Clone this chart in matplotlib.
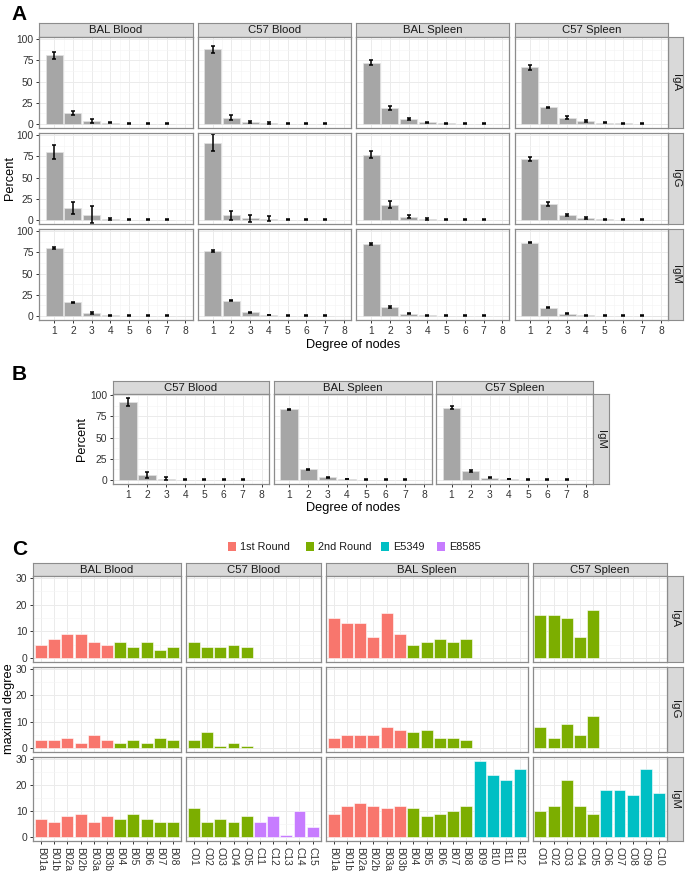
import numpy as np
import matplotlib
matplotlib.use('Agg')
import matplotlib.pyplot as plt
from matplotlib.patches import Rectangle

plt.rcParams['font.family'] = ['Liberation Sans', 'DejaVu Sans']

nan = np.nan

# ---- panel A / B data: percent of nodes per degree (mean, error) ----
degree = [1, 2, 3, 4, 5, 6, 7, 8]
tissues_a = ['BAL Blood', 'C57 Blood', 'BAL Spleen', 'C57 Spleen']
isotypes = ['IgA', 'IgG', 'IgM']

iga_mean = [[81, 13, 3.5, 1.5, 0.5, 0.3, 0.3, nan],
            [88, 7.5, 2.5, 1.0, 0.4, 0.3, 0.2, nan],
            [72, 19, 6, 2.0, 1.0, 0.5, 0.3, 0.1],
            [67, 19.6, 7.5, 3.5, 1.5, 0.8, 0.4, 0.1]]
iga_err = [[4, 2, 2, 0.8, 0.5, 0.5, 0.5, nan],
           [4, 3, 1.5, 0.8, 0.5, 0.5, 0.5, nan],
           [3, 2, 1.5, 0.8, 0.5, 0.5, 0.5, nan],
           [3, 1, 1.5, 0.8, 0.5, 0.5, 0.5, nan]]
igg_mean = [[80, 14, 6, 1.0, 0.3, 0.2, 0.2, nan],
            [91, 5.5, 2, 1.5, 0.5, 0.5, 0.2, nan],
            [77, 18, 4, 1.2, 0.5, 0.3, 0.3, 0.05],
            [72, 19, 6, 2.5, 0.8, 0.5, 0.3, 0.05]]
igg_err = [[8, 7, 10, 0.8, 0.5, 0.5, 0.5, nan],
           [10, 5, 4, 3, 0.5, 0.8, 0.5, nan],
           [4, 4, 2, 0.8, 0.5, 0.5, 0.5, nan],
           [2, 2.5, 1.5, 0.8, 0.5, 0.5, 0.5, nan]]
igm_mean = [[80, 16, 3.5, 0.8, 0.2, 0.1, 0.1, 0.05],
            [76.5, 18, 4.5, 1.2, 0.3, 0.1, 0.1, nan],
            [85, 11, 2.5, 0.8, 0.3, 0.2, 0.1, 0.05],
            [86.5, 10, 2.5, 0.7, 0.3, 0.1, 0.1, 0.05]]
igm_err = [[1, 1, 0.8, 0.5, 0.5, 0.5, 0.5, nan],
           [0.6, 0.8, 0.6, 0.5, 0.5, 0.5, 0.5, nan],
           [1.5, 1, 0.6, 0.5, 0.5, 0.5, 0.5, nan],
           [0.6, 0.8, 0.5, 0.5, 0.5, 0.5, 0.5, nan]]

tissues_b = ['C57 Blood', 'BAL Spleen', 'C57 Spleen']
b_igm_mean = [[92, 6, 1.5, 0.5, 0.2, 0.2, 0.2, nan],
              [83, 12.5, 3, 1.2, 0.3, 0.2, 0.2, 0.05],
              [85, 11, 2.5, 1.0, 0.4, 0.2, 0.2, 0.05]]
b_igm_err = [[5, 4, 1.5, 0.5, 0.5, 0.5, 0.5, nan],
             [0.5, 0.6, 0.5, 0.4, 0.4, 0.4, 0.4, nan],
             [1.5, 1, 0.6, 0.4, 0.4, 0.4, 0.4, nan]]

# ---- panel C data: maximal degree per sample ----
bal_blood_samples = ['B01a', 'B01b', 'B02a', 'B02b', 'B03a', 'B03b', 'B04', 'B05', 'B06', 'B07', 'B08']
bal_blood_groups = ['1st Round', '1st Round', '1st Round', '1st Round', '1st Round', '1st Round',
                    '2nd Round', '2nd Round', '2nd Round', '2nd Round', '2nd Round']
bal_blood_iga = [5, 7, 9, 9, 6, 5, 6, 4, 6, 3, 4]
bal_blood_igg = [3, 3, 4, 2, 5, 3, 2, 3, 2, 4, 3]
bal_blood_igm = [7, 6, 8, 9, 6, 8, 7, 9, 7, 6, 6]

c57_blood_samples = ['C01', 'C02', 'C03', 'C04', 'C05', 'C11', 'C12', 'C13', 'C14', 'C15']
c57_blood_groups = ['2nd Round', '2nd Round', '2nd Round', '2nd Round', '2nd Round',
                    'E8585', 'E8585', 'E8585', 'E8585', 'E8585']
c57_blood_iga = [6, 4, 4, 5, 4, nan, nan, nan, nan, nan]
c57_blood_igg = [3, 6, 1, 2, 1, nan, nan, nan, nan, nan]
c57_blood_igm = [11, 6, 7, 6, 8, 6, 8, 1, 10, 4]

bal_spleen_samples = ['B01a', 'B01b', 'B02a', 'B02b', 'B03a', 'B03b', 'B04', 'B05', 'B06', 'B07', 'B08',
                      'B09', 'B10', 'B11', 'B12']
bal_spleen_groups = ['1st Round', '1st Round', '1st Round', '1st Round', '1st Round', '1st Round',
                     '2nd Round', '2nd Round', '2nd Round', '2nd Round', '2nd Round',
                     'E5349', 'E5349', 'E5349', 'E5349']
bal_spleen_iga = [15, 13, 13, 8, 17, 9, 5, 6, 7, 6, 7, nan, nan, nan, nan]
bal_spleen_igg = [4, 5, 5, 5, 8, 7, 6, 7, 4, 4, 3, nan, nan, nan, nan]
bal_spleen_igm = [9, 12, 13, 12, 11, 12, 11, 8, 9, 10, 12, 29, 24, 22, 26]

c57_spleen_samples = ['C01', 'C02', 'C03', 'C04', 'C05', 'C06', 'C07', 'C08', 'C09', 'C10']
c57_spleen_groups = ['2nd Round', '2nd Round', '2nd Round', '2nd Round', '2nd Round',
                     'E5349', 'E5349', 'E5349', 'E5349', 'E5349']
c57_spleen_iga = [16, 16, 15, 8, 18, nan, nan, nan, nan, nan]
c57_spleen_igg = [8, 4, 9, 5, 12, nan, nan, nan, nan, nan]
c57_spleen_igm = [10, 12, 22, 12, 9, 18, 18, 16, 26, 17]

groups = ['1st Round', '2nd Round', 'E5349', 'E8585']
group_colors = {'1st Round': '#F8766D', '2nd Round': '#7CAE00', 'E5349': '#00BFC4', 'E8585': '#C77CFF'}

# ---------------- layout helpers (pixel coordinates, origin top-left) ----------------
W, H = 685, 872
fig = plt.figure(figsize=(W / 100, H / 100), dpi=100)

BORDER = '#8C8C8C'
TXT = '#333333'
TICK_SIZE = 7.4


def box(x0, y0, x1, y1):
    return [x0 / W, 1 - y1 / H, (x1 - x0) / W, (y1 - y0) / H]


def strip(x0, y0, x1, y1, label, rot=0):
    ax = fig.add_axes(box(x0, y0, x1, y1))
    ax.set_facecolor('#D9D9D9')
    ax.set_xticks([])
    ax.set_yticks([])
    for s in ax.spines.values():
        s.set_color(BORDER)
        s.set_linewidth(0.8)
    ax.text(0.5, 0.5, label, ha='center', va='center', rotation=rot,
            fontsize=8.2, color='#1A1A1A', transform=ax.transAxes)
    return ax


def panel(x0, y0, x1, y1):
    ax = fig.add_axes(box(x0, y0, x1, y1))
    ax.set_axisbelow(True)
    ax.grid(which='major', color='#EBEBEB', lw=0.7)
    ax.grid(which='minor', color='#F4F4F4', lw=0.4)
    for s in ax.spines.values():
        s.set_color(BORDER)
        s.set_linewidth(0.9)
    ax.tick_params(which='major', length=2.5, width=0.7, color=TXT, labelsize=TICK_SIZE,
                   labelcolor=TXT, pad=1.5)
    ax.tick_params(which='minor', length=0)
    return ax


def degree_panel(ax, mean, err, left, bottom):
    x = np.array(degree, dtype=float)
    m = np.array(mean, dtype=float)
    e = np.array(err, dtype=float)
    ok = ~np.isnan(m)
    ax.bar(x[ok], m[ok], width=0.9, color='#A6A6A6', edgecolor='#E3E3E3', linewidth=0.5)
    ok = ~np.isnan(e)
    ax.errorbar(x[ok], m[ok], yerr=e[ok], fmt='none', ecolor='black',
                elinewidth=1.1, capsize=1.5, capthick=1.1)
    ax.set_xticks(degree)
    ax.set_xticks(np.arange(1.5, 8.5, 1.0), minor=True)
    ax.set_yticks([0, 25, 50, 75, 100])
    ax.set_yticks([12.5, 37.5, 62.5, 87.5], minor=True)
    ax.set_xlim(0.19, 8.38)
    if not left:
        ax.tick_params(axis='y', which='both', left=False, labelleft=False)
    if not bottom:
        ax.tick_params(axis='x', which='both', bottom=False, labelbottom=False)


# ---------------- Panel A ----------------
cols_a = [(39, 192.5), (197.5, 351), (356, 509.5), (514.5, 668)]
rows_a = [(37, 128), (133, 224), (229, 320)]
means_a = [iga_mean, igg_mean, igm_mean]
errs_a = [iga_err, igg_err, igm_err]

for j, (x0, x1) in enumerate(cols_a):
    strip(x0, 23, x1, 37, tissues_a[j])
for i, (y0, y1) in enumerate(rows_a):
    strip(668, y0, 683, y1, isotypes[i], rot=-90)
    for j, (x0, x1) in enumerate(cols_a):
        ax = panel(x0, y0, x1, y1)
        degree_panel(ax, means_a[i][j], errs_a[i][j], j == 0, i == 2)
        ax.set_ylim(-4.7, 102.4)

fig.text(11 / W, 1 - 20 / H, 'A', fontsize=15, fontweight='bold', ha='left', va='baseline')
fig.text(353 / W, 1 - 345 / H, 'Degree of nodes', fontsize=9.2, ha='center', va='center', color='black')
fig.text(10 / W, 1 - 178 / H, 'Percent', fontsize=9.2, ha='center', va='center', rotation=90)

# ---------------- Panel B ----------------
cols_b = [(112.5, 269), (273.5, 431.5), (436, 593)]
for j, (x0, x1) in enumerate(cols_b):
    strip(x0, 381, x1, 394, tissues_b[j])
    ax = panel(x0, 394, x1, 484)
    degree_panel(ax, b_igm_mean[j], b_igm_err[j], j == 0, True)
    ax.set_ylim(-4.7, 101.2)
strip(593, 394, 609, 484, 'IgM', rot=-90)

fig.text(12 / W, 1 - 380 / H, 'B', fontsize=15, fontweight='bold', ha='left', va='baseline')
fig.text(353 / W, 1 - 508 / H, 'Degree of nodes', fontsize=9.2, ha='center', va='center')
fig.text(82 / W, 1 - 439 / H, 'Percent', fontsize=9.2, ha='center', va='center', rotation=90)

# ---------------- Panel C ----------------
cols_c = [(33, 181), (186, 320.6), (325.6, 527.5), (532.5, 667)]
rows_c = [(576, 662), (667, 752), (757, 841)]
samples_c = [bal_blood_samples, c57_blood_samples, bal_spleen_samples, c57_spleen_samples]
groups_c = [bal_blood_groups, c57_blood_groups, bal_spleen_groups, c57_spleen_groups]
values_c = [[bal_blood_iga, c57_blood_iga, bal_spleen_iga, c57_spleen_iga],
            [bal_blood_igg, c57_blood_igg, bal_spleen_igg, c57_spleen_igg],
            [bal_blood_igm, c57_blood_igm, bal_spleen_igm, c57_spleen_igm]]

for j, (x0, x1) in enumerate(cols_c):
    strip(x0, 563, x1, 576, tissues_a[j])
for i, (y0, y1) in enumerate(rows_c):
    strip(667, y0, 683, y1, isotypes[i], rot=-90)
    for j, (x0, x1) in enumerate(cols_c):
        ax = panel(x0, y0, x1, y1)
        vals = np.array(values_c[i][j], dtype=float)
        pos = np.arange(len(samples_c[j]))
        cols = [group_colors[g] for g in groups_c[j]]
        ok = ~np.isnan(vals)
        ax.bar(pos[ok], vals[ok], width=0.9, color=np.array(cols)[ok],
               edgecolor='#FFFFFF', linewidth=0.4)
        ax.set_xlim(-0.6, len(pos) - 0.4)
        ax.set_ylim(-1.45, 30.7)
        ax.set_yticks([0, 10, 20, 30])
        ax.set_yticks([5, 15, 25], minor=True)
        ax.set_xticks(pos)
        if i == 2:
            ax.set_xticklabels(samples_c[j], rotation=-90, va='top', ha='center')
        else:
            ax.tick_params(axis='x', which='both', bottom=False, labelbottom=False)
        if j != 0:
            ax.tick_params(axis='y', which='both', left=False, labelleft=False)

fig.text(12 / W, 1 - 555 / H, 'C', fontsize=15, fontweight='bold', ha='left', va='baseline')
fig.text(9 / W, 1 - 709 / H, 'maximal degree', fontsize=9.2, ha='center', va='center', rotation=90)

# legend
legend_x = [228, 306, 381, 437]
for g, lx in zip(groups, legend_x):
    fig.add_artist(Rectangle((lx / W, 1 - 551 / H), 7.5 / W, 9 / H,
                             transform=fig.transFigure, color=group_colors[g], lw=0))
    fig.text((lx + 12.5) / W, 1 - 546.5 / H, g, fontsize=7.8, ha='left', va='center', color='#1A1A1A')

fig.savefig('out.png', dpi=100)
